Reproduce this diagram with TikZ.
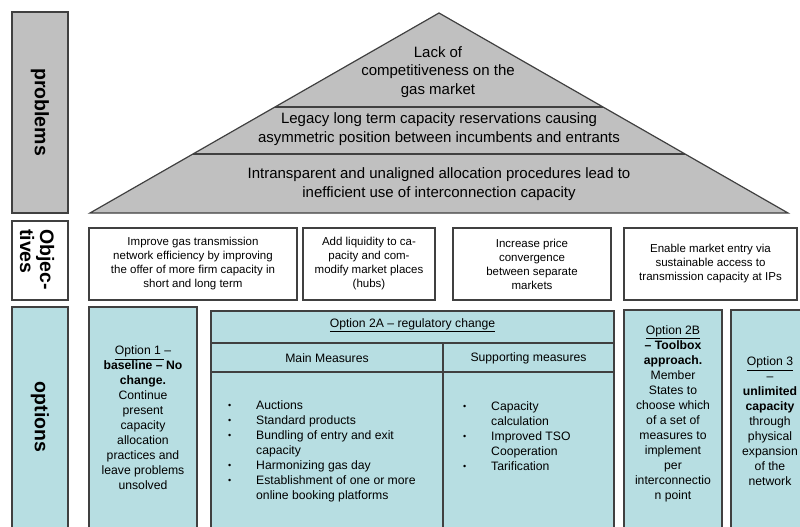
\documentclass[tikz,border=0pt]{standalone}
\usepackage{fontspec}
\setmainfont{Liberation Sans}
\usepackage{tikz}
\usetikzlibrary{calc}
\definecolor{probgray}{RGB}{192,192,192}
\definecolor{optblue}{RGB}{183,222,226}
\definecolor{rimgray}{RGB}{64,64,64}
\newcommand{\optbul}{\makebox[28pt][l]{\raisebox{0.6pt}{\fontsize{9}{15}\selectfont\textbullet}}}

\begin{document}
\begin{tikzpicture}[x=1pt,y=-1pt,every node/.style={inner sep=0pt,align=center,font=\fontsize{12.2}{15}\selectfont},
    rim/.style={draw=rimgray,line width=1.2pt},
    rowtitle/.style={rotate=-90,font=\fontsize{19.5}{20}\selectfont\bfseries},
    probtext/.style={font=\fontsize{15}{18.5}\selectfont},
    objbox/.style={rim,fill=white,minimum height=72pt,font=\fontsize{11.5}{14}\selectfont}]
    \useasboundingbox (0,0) rectangle (800,527);
    \clip (0,0) rectangle (800,527);

    \filldraw[rim,fill=probgray] (12,12) rectangle (68,213);
    \filldraw[rim,fill=white] (12,221) rectangle (68,300);
    \filldraw[rim,fill=optblue] (12,307) rectangle (68,545);
    \node[rowtitle] (problems) at (40,112) {problems};
    \node[rowtitle,align=left] (objectives) at (37,259.5) {Objec-\\tives};
    \node[rowtitle] (options) at (40,417) {options};

    \coordinate (apex) at (439,13);
    \coordinate (bl) at (90,213);
    \coordinate (br) at (788,213);
    \filldraw[rim,fill=probgray] (bl) -- (apex) -- (br) -- cycle;
    \draw[rim] ($(apex)!.47!(bl)$) -- ($(apex)!.47!(br)$);
    \draw[rim] ($(apex)!.705!(bl)$) -- ($(apex)!.705!(br)$);
    \node[probtext] (lack) at (438,72) {Lack of\\ competitiveness on the\\ gas market};
    \node[probtext] (legacy) at (439,129) {Legacy long term capacity reservations causing\\ asymmetric position between incumbents and entrants};
    \node[probtext] (intransp) at (439,184) {Intransparent and unaligned allocation procedures lead to\\ inefficient use of interconnection capacity};

    \node[objbox,minimum width=208pt] (obj1) at (193,264) {Improve gas transmission\\ network efficiency by improving\\ the offer of more firm capacity in\\ short and long term};
    \node[objbox,minimum width=132pt] (obj2) at (369,264) {Add liquidity to ca-\\ pacity and com-\\ modify market places\\ (hubs)};
    \node[objbox,minimum width=158pt] (obj3) at (532,264) {Increase price\\ convergence\\ between separate\\ markets};
    \node[objbox,minimum width=173pt] (obj4) at (710.5,264) {Enable market entry via\\ sustainable access to\\ transmission capacity at IPs};

    \filldraw[rim,fill=optblue] (89,307) rectangle (197,545);
    \filldraw[rim,fill=optblue] (211,311) rectangle (614,545);
    \draw[rim] (211,343) -- (614,343) (211,372) -- (614,372) (443,343) -- (443,545);
    \filldraw[rim,fill=optblue] (624,310) rectangle (722,545);
    \filldraw[rim,fill=optblue] (731,310) rectangle (815,545);

    \node (opt1) at (143,418) {\underline{Option 1 }--\\ \textbf{baseline -- No}\\ \textbf{change.}\\ Continue\\ present\\ capacity\\ allocation\\ practices and\\ leave problems\\ unsolved};
    \node (opt2a) at (412.5,325) {\underline{Option 2A -- regulatory change}};
    \node (mainm) at (327,358) {Main Measures};
    \node (suppm) at (528.5,358) {Supporting measures};
    \node[anchor=west,align=left] (mainlist) at (228,451) {\optbul Auctions\\ \optbul Standard products\\ \optbul Bundling of entry and exit\\ \hspace*{28pt}capacity\\ \optbul Harmonizing gas day\\ \optbul Establishment of one or more\\ \hspace*{28pt}online booking platforms};
    \node[anchor=west,align=left] (supplist) at (463,436) {\optbul Capacity\\ \hspace*{28pt}calculation\\ \optbul Improved TSO\\ \hspace*{28pt}Cooperation\\ \optbul Tarification};
    \node (opt2b) at (673,414) {\underline{Option 2B}\\ \textbf{-- Toolbox}\\ \textbf{approach.}\\ Member\\ States to\\ choose which\\ of a set of\\ measures to\\ implement\\ per\\ interconnectio\\ n point};
    \node (opt3) at (770,421.5) {\underline{Option 3}\\ --\\ \textbf{unlimited}\\ \textbf{capacity}\\ through\\ physical\\ expansion\\ of the\\ network};

\end{tikzpicture}
\end{document}
